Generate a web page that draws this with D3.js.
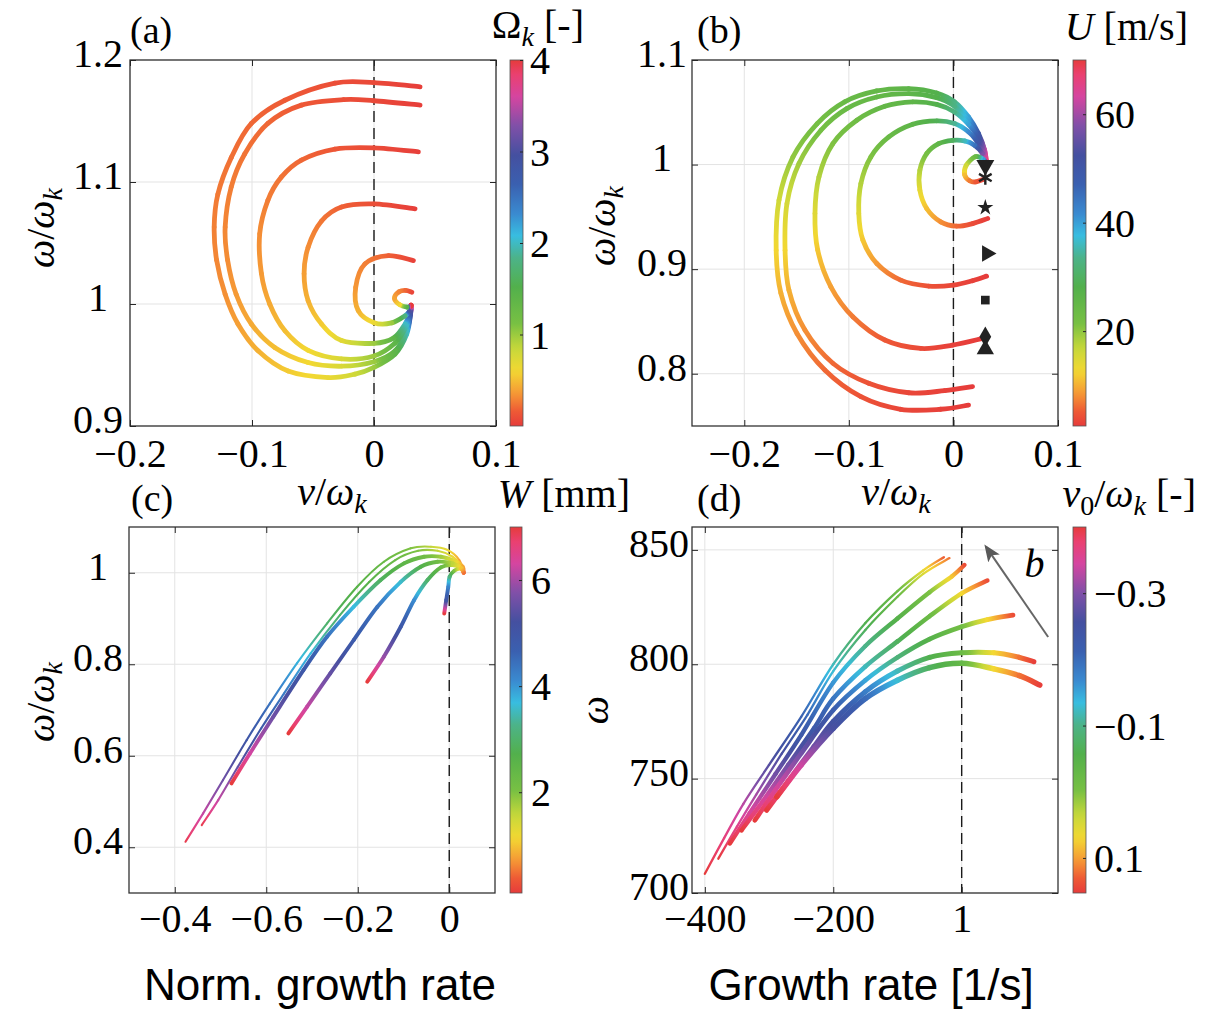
<!DOCTYPE html>
<html><head><meta charset="utf-8">
<script src="https://cdn.jsdelivr.net/npm/d3@7"></script>
<style>body{margin:0;background:#fff} svg{display:block}</style>
</head><body>
<svg id="chart" width="1221" height="1012"></svg>
<script>
// ---------------- DATA ----------------
// colormap (position along colorbar bottom->top, colour)
const cmapPos = [0,0.04,0.09,0.15,0.21,0.28,0.38,0.46,0.52,0.58,0.66,0.74,0.82,0.90,0.96,1];
const cmapCol = ["#e63b3b","#ee5a35","#f59a35","#f3d832","#c8d83a","#78c043","#52b04c","#4cb38a","#38bde0","#3a8ad0","#3a60b0","#4450a0","#8050a8","#d545a0","#ea4070","#e63b3b"];

// Panel (a): [nu/omega_k, omega/omega_k, Omega_k]
const aXTicks = [-0.2,-0.1,0,0.1];
const aXTickLabels = ["−0.2","−0.1","0","0.1"];
const aYTicks = [0.9,1.0,1.1,1.2];
const aYTickLabels = ["0.9","1","1.1","1.2"];
const aCbTicks = [1,2,3,4];
const aCurve1 = [[0.0304,0.999,4.0],[0.0300,0.992,3.0],[0.0268,0.9753,2.0],[0.0173,0.959,1.4],[0.0,0.948,1.0],[-0.0156,0.9425,0.8],[-0.0375,0.9397,0.65],[-0.0704,0.945,0.55],[-0.095,0.9616,0.45],[-0.1115,0.9836,0.38],[-0.122,1.008,0.33],[-0.129,1.036,0.3],[-0.131,1.063,0.28],[-0.128,1.090,0.26],[-0.117,1.120,0.23],[-0.1005,1.148,0.2],[-0.073,1.167,0.16],[-0.032,1.181,0.1],[0.0,1.1814,0.07],[0.0378,1.178,0.02]];
const aCurve2 = [[0.0304,0.999,4.0],[0.0300,0.992,3.0],[0.0268,0.978,2.0],[0.0173,0.9616,1.4],[0.0,0.9527,1.0],[-0.0266,0.949,0.75],[-0.054,0.952,0.6],[-0.0814,0.9644,0.5],[-0.1005,0.9836,0.42],[-0.113,1.008,0.36],[-0.120,1.036,0.32],[-0.122,1.063,0.3],[-0.117,1.096,0.27],[-0.106,1.123,0.24],[-0.087,1.148,0.2],[-0.0595,1.163,0.15],[-0.025,1.1675,0.1],[0.0,1.1666,0.07],[0.0378,1.163,0.02]];
const aCurve3 = [[0.0304,0.999,4.0],[0.0300,0.993,3.0],[0.0268,0.982,2.0],[0.0173,0.968,1.4],[0.0,0.9574,1.0],[-0.0266,0.955,0.75],[-0.054,0.962,0.6],[-0.073,0.978,0.5],[-0.0855,1.0,0.42],[-0.0923,1.025,0.36],[-0.0937,1.0575,0.32],[-0.087,1.085,0.27],[-0.076,1.104,0.24],[-0.0595,1.118,0.2],[-0.032,1.127,0.14],[0.0,1.128,0.08],[0.0364,1.1247,0.02]];
const aCurve4 = [[0.0304,0.999,4.0],[0.0300,0.994,3.0],[0.0255,0.9836,2.0],[0.0159,0.972,1.4],[0.0,0.9678,1.0],[-0.0266,0.970,0.7],[-0.043,0.9836,0.55],[-0.054,1.0027,0.45],[-0.0573,1.0247,0.38],[-0.054,1.0466,0.32],[-0.043,1.068,0.25],[-0.0266,1.0795,0.18],[0.0,1.082,0.1],[0.0337,1.078,0.02]];
const aCurve5 = [[0.0304,0.999,4.0],[0.0290,0.994,3.0],[0.0255,0.9904,1.8],[0.0145,0.9845,1.0],[0.0,0.9847,0.65],[-0.0129,0.9945,0.45],[-0.015,1.0137,0.35],[-0.0074,1.0329,0.28],[0.0118,1.0397,0.18],[0.0323,1.0356,0.04]];
const aCurve6 = [[0.0304,0.998,4.0],[0.027,0.9975,1.5],[0.021,0.9995,0.6],[0.0168,1.0047,0.4],[0.0205,1.0100,0.3],[0.026,1.0112,0.2],[0.031,1.0096,0.05]];

// Panel (b): [nu/omega_k, omega/omega_k, U]
const bXTicks = [-0.2,-0.1,0,0.1];
const bXTickLabels = ["−0.2","−0.1","0","0.1"];
const bYTicks = [0.8,0.9,1.0,1.1];
const bYTickLabels = ["0.8","0.9","1","1.1"];
const bCbTicks = [20,40,60];
const bCurve1 = [[0.0317,1.001,70],[0.0298,1.0137,62],[0.024,1.0296,50],[0.0145,1.0455,40],[0.0011,1.060,33],[-0.016,1.0685,28],[-0.0427,1.0726,26],[-0.0733,1.0704,25],[-0.104,1.060,24],[-0.1305,1.039,22],[-0.1534,1.0073,20],[-0.1668,0.966,16],[-0.1695,0.918,12.5],[-0.165,0.877,10],[-0.1496,0.8385,8],[-0.123,0.8035,6],[-0.0885,0.778,4.5],[-0.0504,0.766,3.5],[-0.0122,0.766,3],[0.0145,0.770,2.6]];
const bCurve2 = [[0.0317,1.001,70],[0.0298,1.0137,62],[0.024,1.028,50],[0.0145,1.042,40],[0.0011,1.0557,33],[-0.016,1.064,28],[-0.0427,1.0678,26],[-0.0733,1.0646,25],[-0.102,1.0535,24],[-0.1267,1.0328,22],[-0.1477,1.001,19],[-0.1592,0.9627,15.5],[-0.161,0.918,12.5],[-0.1573,0.880,10],[-0.142,0.8417,8],[-0.1153,0.810,6],[-0.081,0.7908,4.5],[-0.0427,0.7818,3.5],[-0.0084,0.7838,3],[0.0183,0.7876,2.6]];
const bCurve3 = [[0.0317,1.001,70],[0.029,1.0128,60],[0.024,1.0258,50],[0.0145,1.0385,40],[0.0011,1.0503,33],[-0.016,1.0576,28],[-0.0389,1.0599,26],[-0.0656,1.0557,25],[-0.0924,1.0424,23],[-0.1153,1.020,21],[-0.1286,0.9882,18],[-0.1324,0.9532,14.5],[-0.1298,0.9182,11.5],[-0.1172,0.8831,9],[-0.0962,0.8545,7],[-0.0656,0.8322,5],[-0.0313,0.8242,3.8],[-0.0008,0.8274,3],[0.0279,0.8338,2.6]];
const bCurve4 = [[0.0317,1.001,70],[0.029,1.012,60],[0.0229,1.0217,50],[0.0145,1.0312,42],[0.0011,1.0392,34],[-0.016,1.0417,29],[-0.0389,1.0385,26],[-0.0618,1.0264,24],[-0.079,1.0073,21],[-0.0885,0.9818,18],[-0.0905,0.9532,14.5],[-0.0866,0.9277,11.5],[-0.0733,0.9054,8.5],[-0.0504,0.8895,6],[-0.0237,0.8838,4.5],[0,0.8847,3.5],[0.0183,0.8889,3],[0.0317,0.8933,2.6]];
const bCurve5 = [[0.0317,1.001,70],[0.0279,1.0105,58],[0.0202,1.0185,45],[0.0107,1.0226,36],[-0.0008,1.0232,30],[-0.0141,1.020,26],[-0.0256,1.0105,22],[-0.0321,0.9946,18],[-0.0321,0.9755,14],[-0.0256,0.958,11],[-0.0122,0.9452,8],[0.003,0.9411,6],[0.0183,0.9436,4],[0.0328,0.9484,2.6]];
const bCurve6 = [[0.0317,1.0,70],[0.0285,1.005,40],[0.0208,1.0075,24],[0.0121,0.999,16],[0.0108,0.990,11],[0.0155,0.9845,7],[0.0215,0.9834,5],[0.029,0.986,3]];
const bMarkerX = [0.0305,0.0305,0.0305,0.032,0.0305,0.0305,0.0305];
const bMarkerY = [0.9993,0.9876,0.9589,0.915,0.8704,0.8353,0.8233];
const bMarkerShape = ["triDown","asterisk","star","triRight","square","diamond","triUp"];

// Panel (c): [nu/omega_k, omega/omega_k, W]
const cXTicks = [-0.6,-0.4,-0.2,0];
const cXTickLabels = ["−0.4","−0.6","−0.2","0"];
const cYTicks = [0.4,0.6,0.8,1.0];
const cYTickLabels = ["0.4","0.6","0.8","1"];
const cCbTicks = [2,4,6];
const cCurve1 = [[-0.5765,0.412,6.9],[-0.538,0.474,6.2],[-0.4945,0.5469,5.6],[-0.443,0.634,5.0],[-0.392,0.7145,4.4],[-0.333,0.802,3.8],[-0.267,0.8894,3.0],[-0.2013,0.9694,2.6],[-0.1429,1.024,2.3],[-0.0842,1.0533,2.0],[-0.040,1.0568,1.6],[-0.0035,1.0496,1.2],[0.022,1.0278,0.8],[0.0316,1.0,0.5]];
const cCurve2 = [[-0.541,0.4485,6.9],[-0.505,0.503,6.2],[-0.462,0.576,5.5],[-0.411,0.660,4.9],[-0.361,0.7364,4.3],[-0.303,0.8238,3.7],[-0.239,0.9075,3.0],[-0.175,0.980,2.6],[-0.118,1.0278,2.3],[-0.068,1.048,2.0],[-0.0255,1.048,1.6],[0.0075,1.035,1.2],[0.0257,1.0168,0.8],[0.0316,1.0,0.5]];
const cCurve3 = [[-0.476,0.5396,7.0],[-0.4358,0.605,6.3],[-0.3846,0.6853,5.6],[-0.3187,0.787,4.9],[-0.2673,0.860,4.4],[-0.2088,0.9257,3.7],[-0.150,0.984,2.9],[-0.099,1.0205,2.5],[-0.055,1.035,2.2],[-0.0182,1.035,1.8],[0.011,1.026,1.3],[0.0294,1.013,0.8],[0.0316,1.0,0.5]];
const cCurve4 = [[-0.3516,0.649,7.0],[-0.311,0.707,6.2],[-0.26,0.780,5.5],[-0.2088,0.853,4.8],[-0.157,0.9257,4.4],[-0.106,0.980,3.6],[-0.0622,1.013,2.7],[-0.0255,1.024,2.2],[0.0075,1.0205,1.6],[0.0272,1.0095,1.0],[0.0316,1.0,0.5]];
const cCurve5 = [[-0.1793,0.7618,7.0],[-0.143,0.8165,5.9],[-0.106,0.882,4.9],[-0.077,0.940,4.1],[-0.0475,0.984,3.0],[-0.0182,1.0118,2.3],[0.0075,1.0168,1.6],[0.0257,1.0095,1.0],[0.0316,1.0,0.5]];
const cCurve6 = [[-0.011,0.911,7.0],[-0.0066,0.9403,5.0],[-0.0022,0.969,4.2],[0.0008,0.9913,3.2],[0.011,1.0044,2.0],[0.0257,1.0088,1.0],[0.0316,1.0,0.5]];

// Panel (d): [growth rate, omega, nu0/omega_k]
const dXTicks = [-400,-200,0];
const dXTickLabels = ["−400","−200","1"];
const dYTicks = [700,750,800,850];
const dYTickLabels = ["700","750","800","850"];
const dCbTicks = [-0.3,-0.1,0.1];
const dCbTickLabels = ["−0.3","−0.1","0.1"];
const dCurve1 = [[-400,708.4,-0.40],[-370,724,-0.37],[-340,739,-0.33],[-300,756,-0.27],[-250,777,-0.21],[-200,800,-0.12],[-150,818,-0.06],[-100,832,-0.02],[-60,841,0.06],[-27.7,846.8,0.13]];
const dCurve2 = [[-379,715,-0.40],[-350,729,-0.36],[-320,743,-0.32],[-280,761,-0.26],[-240,778,-0.2],[-200,797,-0.13],[-150,815,-0.07],[-100,829.5,-0.02],[-60,839.5,0.05],[-19,846.4,0.12]];
const dCurve3 = [[-361,721.6,-0.40],[-330,735,-0.35],[-290,752,-0.29],[-250,769,-0.23],[-200,792,-0.16],[-150,808,-0.1],[-100,820,-0.05],[-50,831.5,0.0],[-15,838.5,0.08],[4.4,843.4,0.14]];
const dCurve4 = [[-342.8,727.4,-0.40],[-310,740,-0.35],[-270,756,-0.29],[-230,772,-0.23],[-200,785,-0.19],[-150,799,-0.12],[-100,810,-0.07],[-50,821,-0.02],[0,831,0.07],[40,836.6,0.14]];
const dCurve5 = [[-322,731.8,-0.40],[-290,745,-0.35],[-250,761,-0.29],[-200,780,-0.22],[-150,793,-0.15],[-100,803,-0.09],[-50,811,-0.05],[0,816.4,-0.01],[40,819.5,0.07],[80,821.5,0.14]];
const dCurve6 = [[-303.8,736.2,-0.40],[-270,749,-0.35],[-230,764,-0.29],[-200,775,-0.25],[-150,788,-0.18],[-100,797,-0.12],[-50,803,-0.06],[0,805,-0.02],[50,805,0.07],[90,803,0.12],[112.4,801.1,0.15]];
const dCurve7 = [[-288,742,-0.40],[-250,756,-0.34],[-200,772,-0.26],[-150,785,-0.2],[-100,793,-0.13],[-50,798.5,-0.07],[0,800.4,-0.03],[50,798,0.07],[90,795,0.12],[121.6,790.9,0.15]];
const dArrow = [[134.7,811.9],[38,851.3]];
const dArrowLabelPos = [98,838];

// ---------------- DRAWING ----------------
const svg = d3.select("#chart");
const defs = svg.append("defs");
const cmap = d3.scaleLinear().domain(cmapPos).range(cmapCol).interpolate(d3.interpolateRgb).clamp(true);
const SERIF = "'Liberation Serif','Times New Roman',serif";
const SANS = "'Liberation Sans',Arial,sans-serif";
const FS = 40;

function drawGradCurve(g, pts, x, y, norm, width, idp) {
  const P = pts.map(p => [x(p[0]), y(p[1]), p[2]]);
  for (let i = 0; i < P.length - 1; i++) {
    const p0 = P[Math.max(i - 1, 0)], p1 = P[i], p2 = P[i + 1], p3 = P[Math.min(i + 2, P.length - 1)];
    const c1 = [p1[0] + (p2[0] - p0[0]) / 6, p1[1] + (p2[1] - p0[1]) / 6];
    const c2 = [p2[0] - (p3[0] - p1[0]) / 6, p2[1] - (p3[1] - p1[1]) / 6];
    const id = idp + i;
    const gr = defs.append("linearGradient").attr("id", id).attr("gradientUnits", "userSpaceOnUse")
      .attr("x1", p1[0]).attr("y1", p1[1]).attr("x2", p2[0] + 0.001).attr("y2", p2[1]);
    for (let k = 0; k <= 6; k++) {
      const f = k / 6;
      gr.append("stop").attr("offset", f).attr("stop-color", cmap(norm(p1[2] + (p2[2] - p1[2]) * f)));
    }
    g.append("path")
      .attr("d", `M${p1[0]},${p1[1]}C${c1[0]},${c1[1]} ${c2[0]},${c2[1]} ${p2[0]},${p2[1]}`)
      .attr("fill", "none").attr("stroke", `url(#${id})`).attr("stroke-width", width)
      .attr("stroke-linecap", "round");
  }
}

function styleAxisText(sel, size) {
  sel.attr("font-family", null).attr("font-size", null);
  sel.selectAll("text").style("font-family", SERIF).style("font-size", size + "px").attr("fill", "#000");
  sel.selectAll("line").attr("stroke", "#262626");
  sel.select(".domain").remove();
}

function drawPanel(p) {
  const [L, T, R, B] = p.box;
  const x = d3.scaleLinear().domain(p.xDomain).range([L, R]);
  const y = d3.scaleLinear().domain(p.yDomain).range([B, T]);
  const g = svg.append("g");
  g.append("g").selectAll("line").data(p.xTicks).join("line")
    .attr("x1", d => x(d)).attr("x2", d => x(d)).attr("y1", T).attr("y2", B)
    .attr("stroke", "#e3e3e3").attr("stroke-width", 1);
  g.append("g").selectAll("line").data(p.yTicks).join("line")
    .attr("y1", d => y(d)).attr("y2", d => y(d)).attr("x1", L).attr("x2", R)
    .attr("stroke", "#e3e3e3").attr("stroke-width", 1);
  g.append("line").attr("x1", x(0)).attr("x2", x(0)).attr("y1", T).attr("y2", B)
    .attr("stroke", "#1a1a1a").attr("stroke-width", 1.4).attr("stroke-dasharray", "11,6");
  const norm = v => (v - p.cbDomain[0]) / (p.cbDomain[1] - p.cbDomain[0]);
  p.curves.forEach((c, ci) => drawGradCurve(g, c, x, y, norm, p.widths[ci], p.id + "c" + ci + "s"));
  g.append("rect").attr("x", L).attr("y", T).attr("width", R - L).attr("height", B - T)
    .attr("fill", "none").attr("stroke", "#333").attr("stroke-width", 1.3);
  const ab = g.append("g").attr("transform", `translate(0,${B})`)
    .call(d3.axisBottom(x).tickValues(p.xTicks).tickFormat((d, i) => p.xTickLabels[i]).tickSizeInner(-6).tickSizeOuter(0).tickPadding(p.xPad));
  styleAxisText(ab, FS);
  const at = g.append("g").attr("transform", `translate(0,${T})`)
    .call(d3.axisTop(x).tickValues(p.xTicks).tickFormat("").tickSizeInner(-6).tickSizeOuter(0));
  styleAxisText(at, FS);
  const al = g.append("g").attr("transform", `translate(${L},0)`)
    .call(d3.axisLeft(y).tickValues(p.yTicks).tickFormat((d, i) => p.yTickLabels[i]).tickSizeInner(-6).tickSizeOuter(0));
  styleAxisText(al, FS);
  al.selectAll("text").attr("x", -p.yLabOff).attr("text-anchor", "middle").attr("dy", "0.16em");
  const ar = g.append("g").attr("transform", `translate(${R},0)`)
    .call(d3.axisRight(y).tickValues(p.yTicks).tickFormat("").tickSizeInner(-6).tickSizeOuter(0));
  styleAxisText(ar, FS);

  const [cL, cR] = p.cbX;
  const gid = p.id + "cb";
  const lg = defs.append("linearGradient").attr("id", gid).attr("x1", 0).attr("y1", 1).attr("x2", 0).attr("y2", 0);
  d3.range(0, 1.0001, 0.02).forEach(t => lg.append("stop").attr("offset", t).attr("stop-color", cmap(t)));
  g.append("rect").attr("x", cL).attr("y", T).attr("width", cR - cL).attr("height", B - T)
    .attr("fill", `url(#${gid})`).attr("stroke", "#555").attr("stroke-width", 0.8);
  const cs = d3.scaleLinear().domain(p.cbDomain).range([B, T]);
  const ac = g.append("g").attr("transform", `translate(${cR},0)`)
    .call(d3.axisRight(cs).tickValues(p.cbTicks).tickFormat((d, i) => p.cbTickLabels ? p.cbTickLabels[i] : String(d)).tickSizeInner(-3).tickSizeOuter(0).tickPadding(p.cbPad));
  styleAxisText(ac, FS);
  ac.selectAll("text").attr("dy", "0.34em");
  return { g, x, y };
}

function mathText(parent, attrs, parts, size) {
  const t = parent.append("text").style("font-family", SERIF).style("font-size", size + "px").attr("fill", "#000");
  Object.entries(attrs).forEach(([k, v]) => t.attr(k, v));
  let shifted = false;
  parts.forEach(([txt, st]) => {
    const ts = t.append("tspan").text(txt);
    if (st.includes("i")) ts.style("font-style", "italic");
    if (st.includes("s")) {
      ts.style("font-size", Math.round(size * 0.7) + "px");
      if (!shifted) { ts.attr("dy", Math.round(size * 0.2)); shifted = true; }
    } else if (shifted) { ts.attr("dy", -Math.round(size * 0.2)); shifted = false; }
  });
  return t;
}

// ---- panel (a)
const pa = drawPanel({ id: "pa", box: [130, 60, 496, 426], xDomain: [-0.2, 0.1], yDomain: [0.9, 1.2],
  xTicks: aXTicks, xTickLabels: aXTickLabels, yTicks: aYTicks, yTickLabels: aYTickLabels,
  curves: [aCurve1, aCurve2, aCurve3, aCurve4, aCurve5, aCurve6], widths: [4.8, 4.8, 4.8, 4.8, 4.8, 4.8],
  cbX: [510, 523], cbDomain: [0, 4], cbTicks: aCbTicks, cbPad: 7, xPad: 13, yLabOff: 32 });

// ---- panel (b)
const pb = drawPanel({ id: "pb", box: [692, 60, 1058, 426], xDomain: [-0.25, 0.1], yDomain: [0.75, 1.1],
  xTicks: bXTicks, xTickLabels: bXTickLabels, yTicks: bYTicks, yTickLabels: bYTickLabels,
  curves: [bCurve1, bCurve2, bCurve3, bCurve4, bCurve5, bCurve6], widths: [4.8, 4.8, 4.8, 4.8, 4.8, 4.8],
  cbX: [1073, 1086], cbDomain: [2.5, 70], cbTicks: bCbTicks, cbPad: 9, xPad: 13, yLabOff: 30 });
const shapeMap = {
  triDown: [d3.symbolTriangle, 140, 180], triUp: [d3.symbolTriangle, 130, 0], triRight: [d3.symbolTriangle, 120, 90],
  star: [d3.symbolStar, 80, 0], square: [d3.symbolSquare, 75, 0], diamond: [d3.symbolDiamond, 120, 0], asterisk: [d3.symbolAsterisk, 150, 0]
};
bMarkerShape.forEach((s, i) => {
  const [type, size, rot] = shapeMap[s];
  const path = pb.g.append("path").attr("d", d3.symbol().type(type).size(size)())
    .attr("transform", `translate(${pb.x(bMarkerX[i])},${pb.y(bMarkerY[i])}) rotate(${rot})`);
  if (s === "asterisk") path.attr("fill", "none").attr("stroke", "#222").attr("stroke-width", 2.4);
  else path.attr("fill", "#222");
});

// ---- panel (c)
const pc = drawPanel({ id: "pc", box: [129, 527, 495, 893], xDomain: [-0.7, 0.1], yDomain: [0.3, 1.1],
  xTicks: cXTicks, xTickLabels: cXTickLabels, yTicks: cYTicks, yTickLabels: cYTickLabels,
  curves: [cCurve1, cCurve2, cCurve3, cCurve4, cCurve5, cCurve6], widths: [2.1, 2.1, 3.9, 3.9, 3.9, 3.9],
  cbX: [510, 522], cbDomain: [0.1, 7], cbTicks: cCbTicks, cbPad: 9, xPad: 11, yLabOff: 31 });

// ---- panel (d)
const pd = drawPanel({ id: "pd", box: [692, 527, 1058, 893], xDomain: [-420, 150], yDomain: [700, 860],
  xTicks: dXTicks, xTickLabels: dXTickLabels, yTicks: dYTicks, yTickLabels: dYTickLabels,
  curves: [dCurve1, dCurve2, dCurve3, dCurve4, dCurve5, dCurve6, dCurve7], widths: [2.3, 2.3, 4.3, 4.5, 4.7, 5.1, 5.5],
  cbX: [1073, 1086], cbDomain: [0.153, -0.4], cbTicks: dCbTicks, cbTickLabels: dCbTickLabels, cbPad: 8, xPad: 11, yLabOff: 33 });
defs.append("marker").attr("id", "arrowHead").attr("markerUnits", "userSpaceOnUse")
  .attr("markerWidth", 18).attr("markerHeight", 14).attr("refX", 14).attr("refY", 7).attr("orient", "auto")
  .append("path").attr("d", "M0,0 L17,7 L0,14 L4,7 Z").attr("fill", "#595959");
pd.g.append("line").attr("x1", pd.x(dArrow[0][0])).attr("y1", pd.y(dArrow[0][1]))
  .attr("x2", pd.x(dArrow[1][0])).attr("y2", pd.y(dArrow[1][1]))
  .attr("stroke", "#666").attr("stroke-width", 2).attr("marker-end", "url(#arrowHead)");
pd.g.append("text").attr("x", pd.x(dArrowLabelPos[0])).attr("y", pd.y(dArrowLabelPos[1]))
  .style("font-family", SERIF).style("font-size", "40px").style("font-style", "italic").text("b");

// ---- labels
const lab = svg.append("g");
[["(a)", 130, 43], ["(b)", 697, 43], ["(c)", 131, 511], ["(d)", 697, 511]].forEach(([t, x, y]) =>
  lab.append("text").attr("x", x).attr("y", y).style("font-family", SERIF).style("font-size", "38px").text(t));

const omegaRatio = [["ω", "i"], ["/", "r"], ["ω", "i"], ["k", "is"]];
mathText(lab, { transform: "translate(54,228) rotate(-90)", "text-anchor": "middle" }, omegaRatio, FS);
mathText(lab, { transform: "translate(615,226) rotate(-90)", "text-anchor": "middle" }, omegaRatio, FS);
mathText(lab, { transform: "translate(54,702) rotate(-90)", "text-anchor": "middle" }, omegaRatio, FS);
mathText(lab, { transform: "translate(608,710) rotate(-90)", "text-anchor": "middle" }, [["ω", "i"]], FS);

const nuRatio = [["ν", "i"], ["/", "r"], ["ω", "i"], ["k", "is"]];
mathText(lab, { x: 332, y: 505, "text-anchor": "middle" }, nuRatio, FS);
mathText(lab, { x: 896, y: 505, "text-anchor": "middle" }, nuRatio, FS);

mathText(lab, { x: 584, y: 38, "text-anchor": "end" }, [["Ω", "r"], ["k", "is"], [" [-]", "r"]], FS);
mathText(lab, { x: 1188, y: 40, "text-anchor": "end" }, [["U", "i"], ["  [m/s]", "r"]], FS);
mathText(lab, { x: 630, y: 507, "text-anchor": "end" }, [["W", "i"], ["  [mm]", "r"]], FS);
mathText(lab, { x: 1196, y: 507, "text-anchor": "end" }, [["ν", "i"], ["0", "rs"], ["/", "r"], ["ω", "i"], ["k", "is"], [" [-]", "r"]], FS);

lab.append("text").attr("x", 320).attr("y", 1000).attr("text-anchor", "middle")
  .style("font-family", SANS).style("font-size", "44px").text("Norm. growth rate");
lab.append("text").attr("x", 871).attr("y", 1000).attr("text-anchor", "middle")
  .style("font-family", SANS).style("font-size", "44px").text("Growth rate [1/s]");
</script>
</body></html>
